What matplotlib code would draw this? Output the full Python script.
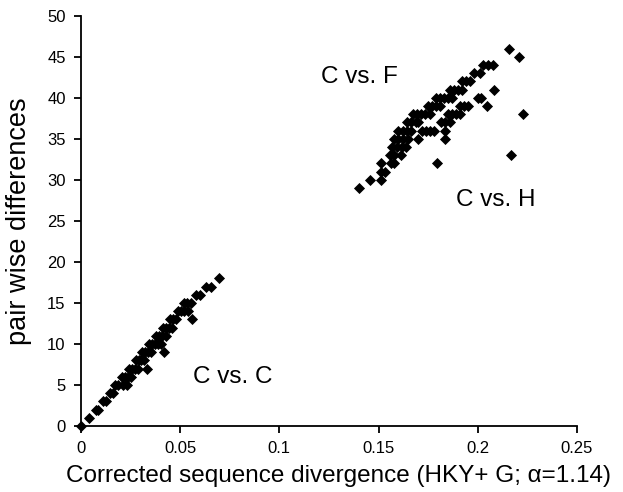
import numpy as np
import matplotlib.pyplot as plt

plt.rcParams["font.family"] = ["Liberation Sans", "DejaVu Sans"]

# pair wise differences (integer) -> corrected divergences
cc_y = [0, 1, 2, 2, 3, 3, 4, 4, 5, 5, 5, 5, 6, 6, 6, 6,
        7, 7, 7, 7, 7, 8, 8, 8, 8, 9, 9, 9, 9, 9,
        10, 10, 10, 10, 10, 11, 11, 11, 11, 12, 12, 12, 12,
        13, 13, 13, 13, 14, 14, 14, 14, 15, 15, 15, 16, 16, 17, 17, 18]
cc_x = [0.0, 0.0038, 0.0075, 0.0085, 0.011, 0.0125, 0.0145, 0.016,
        0.017, 0.0185, 0.021, 0.023, 0.0205, 0.022, 0.0235, 0.025,
        0.024, 0.0255, 0.027, 0.0285, 0.0335, 0.0275, 0.029, 0.0305, 0.032,
        0.031, 0.0325, 0.034, 0.0355, 0.042,
        0.0345, 0.036, 0.0375, 0.039, 0.0405, 0.038, 0.0395, 0.041, 0.043,
        0.0415, 0.043, 0.0445, 0.046, 0.045, 0.0465, 0.048, 0.056,
        0.049, 0.0505, 0.052, 0.054, 0.052, 0.0535, 0.0555, 0.058, 0.060,
        0.063, 0.0655, 0.0695]

cf_y = [29, 30, 30, 31, 31, 32, 32, 32, 33, 33, 33, 34, 34, 34, 34,
        35, 35, 35, 35, 36, 36, 36, 36, 37, 37, 37,
        38, 38, 38, 38, 38, 39, 39, 39, 39, 40, 40, 40, 40, 40,
        41, 41, 41, 41, 42, 42, 42, 43, 43, 44, 44, 44, 45, 46]
cf_x = [0.140, 0.1455, 0.151, 0.151, 0.1535, 0.151, 0.1565, 0.158,
        0.156, 0.158, 0.1615, 0.157, 0.1595, 0.162, 0.164,
        0.158, 0.160, 0.1625, 0.165, 0.160, 0.1625, 0.1645, 0.1665,
        0.1645, 0.1665, 0.169, 0.1675, 0.1695, 0.1715, 0.1735, 0.176,
        0.175, 0.177, 0.179, 0.181, 0.179, 0.181, 0.183, 0.185, 0.187,
        0.186, 0.188, 0.190, 0.192, 0.192, 0.194, 0.196, 0.198, 0.201,
        0.2025, 0.205, 0.2075, 0.221, 0.216]

ch_y = [32, 33, 35, 35, 36, 36, 36, 36, 36, 37, 37, 37, 37,
        38, 38, 38, 38, 38, 39, 39, 39, 39, 40, 40, 41]
ch_x = [0.1796, 0.217, 0.170, 0.1835, 0.172, 0.174, 0.176, 0.178, 0.1835,
        0.170, 0.1815, 0.1835, 0.186, 0.185, 0.187, 0.189, 0.191, 0.2226,
        0.191, 0.193, 0.195, 0.2045, 0.200, 0.2015, 0.208]

fig = plt.figure(figsize=(6.23, 4.92), dpi=100)
ax = fig.add_axes([0.130, 0.134, 0.796, 0.834])

for xs, ys in [(cc_x, cc_y), (cf_x, cf_y), (ch_x, ch_y)]:
    ax.scatter(xs, ys, marker="D", s=32, color="black", linewidths=0, clip_on=False)

ax.set_xlim(0, 0.25)
ax.set_ylim(0, 50)
ax.set_xticks(np.arange(0, 0.251, 0.05))
ax.set_xticklabels(["0", "0.05", "0.1", "0.15", "0.2", "0.25"])
ax.set_yticks(range(0, 51, 5))

for s in ["top", "right"]:
    ax.spines[s].set_visible(False)
for s in ["left", "bottom"]:
    ax.spines[s].set_linewidth(1.3)
ax.tick_params(direction="out", length=5, width=1.3, labelsize=12, pad=6)

ax.set_xlabel("Corrected sequence divergence (HKY+ G; \u03b1=1.14)", fontsize=17.5, labelpad=6)
ax.xaxis.label.set_x(0.52)
ax.set_ylabel("pair wise differences", fontsize=19.5, labelpad=11)

ax.text(0.0565, 6, "C vs. C", fontsize=17.5, va="center")
ax.text(0.121, 42.5, "C vs. F", fontsize=17.5, va="center")
ax.text(0.189, 27.5, "C vs. H", fontsize=17.5, va="center")

fig.savefig("out.png")
